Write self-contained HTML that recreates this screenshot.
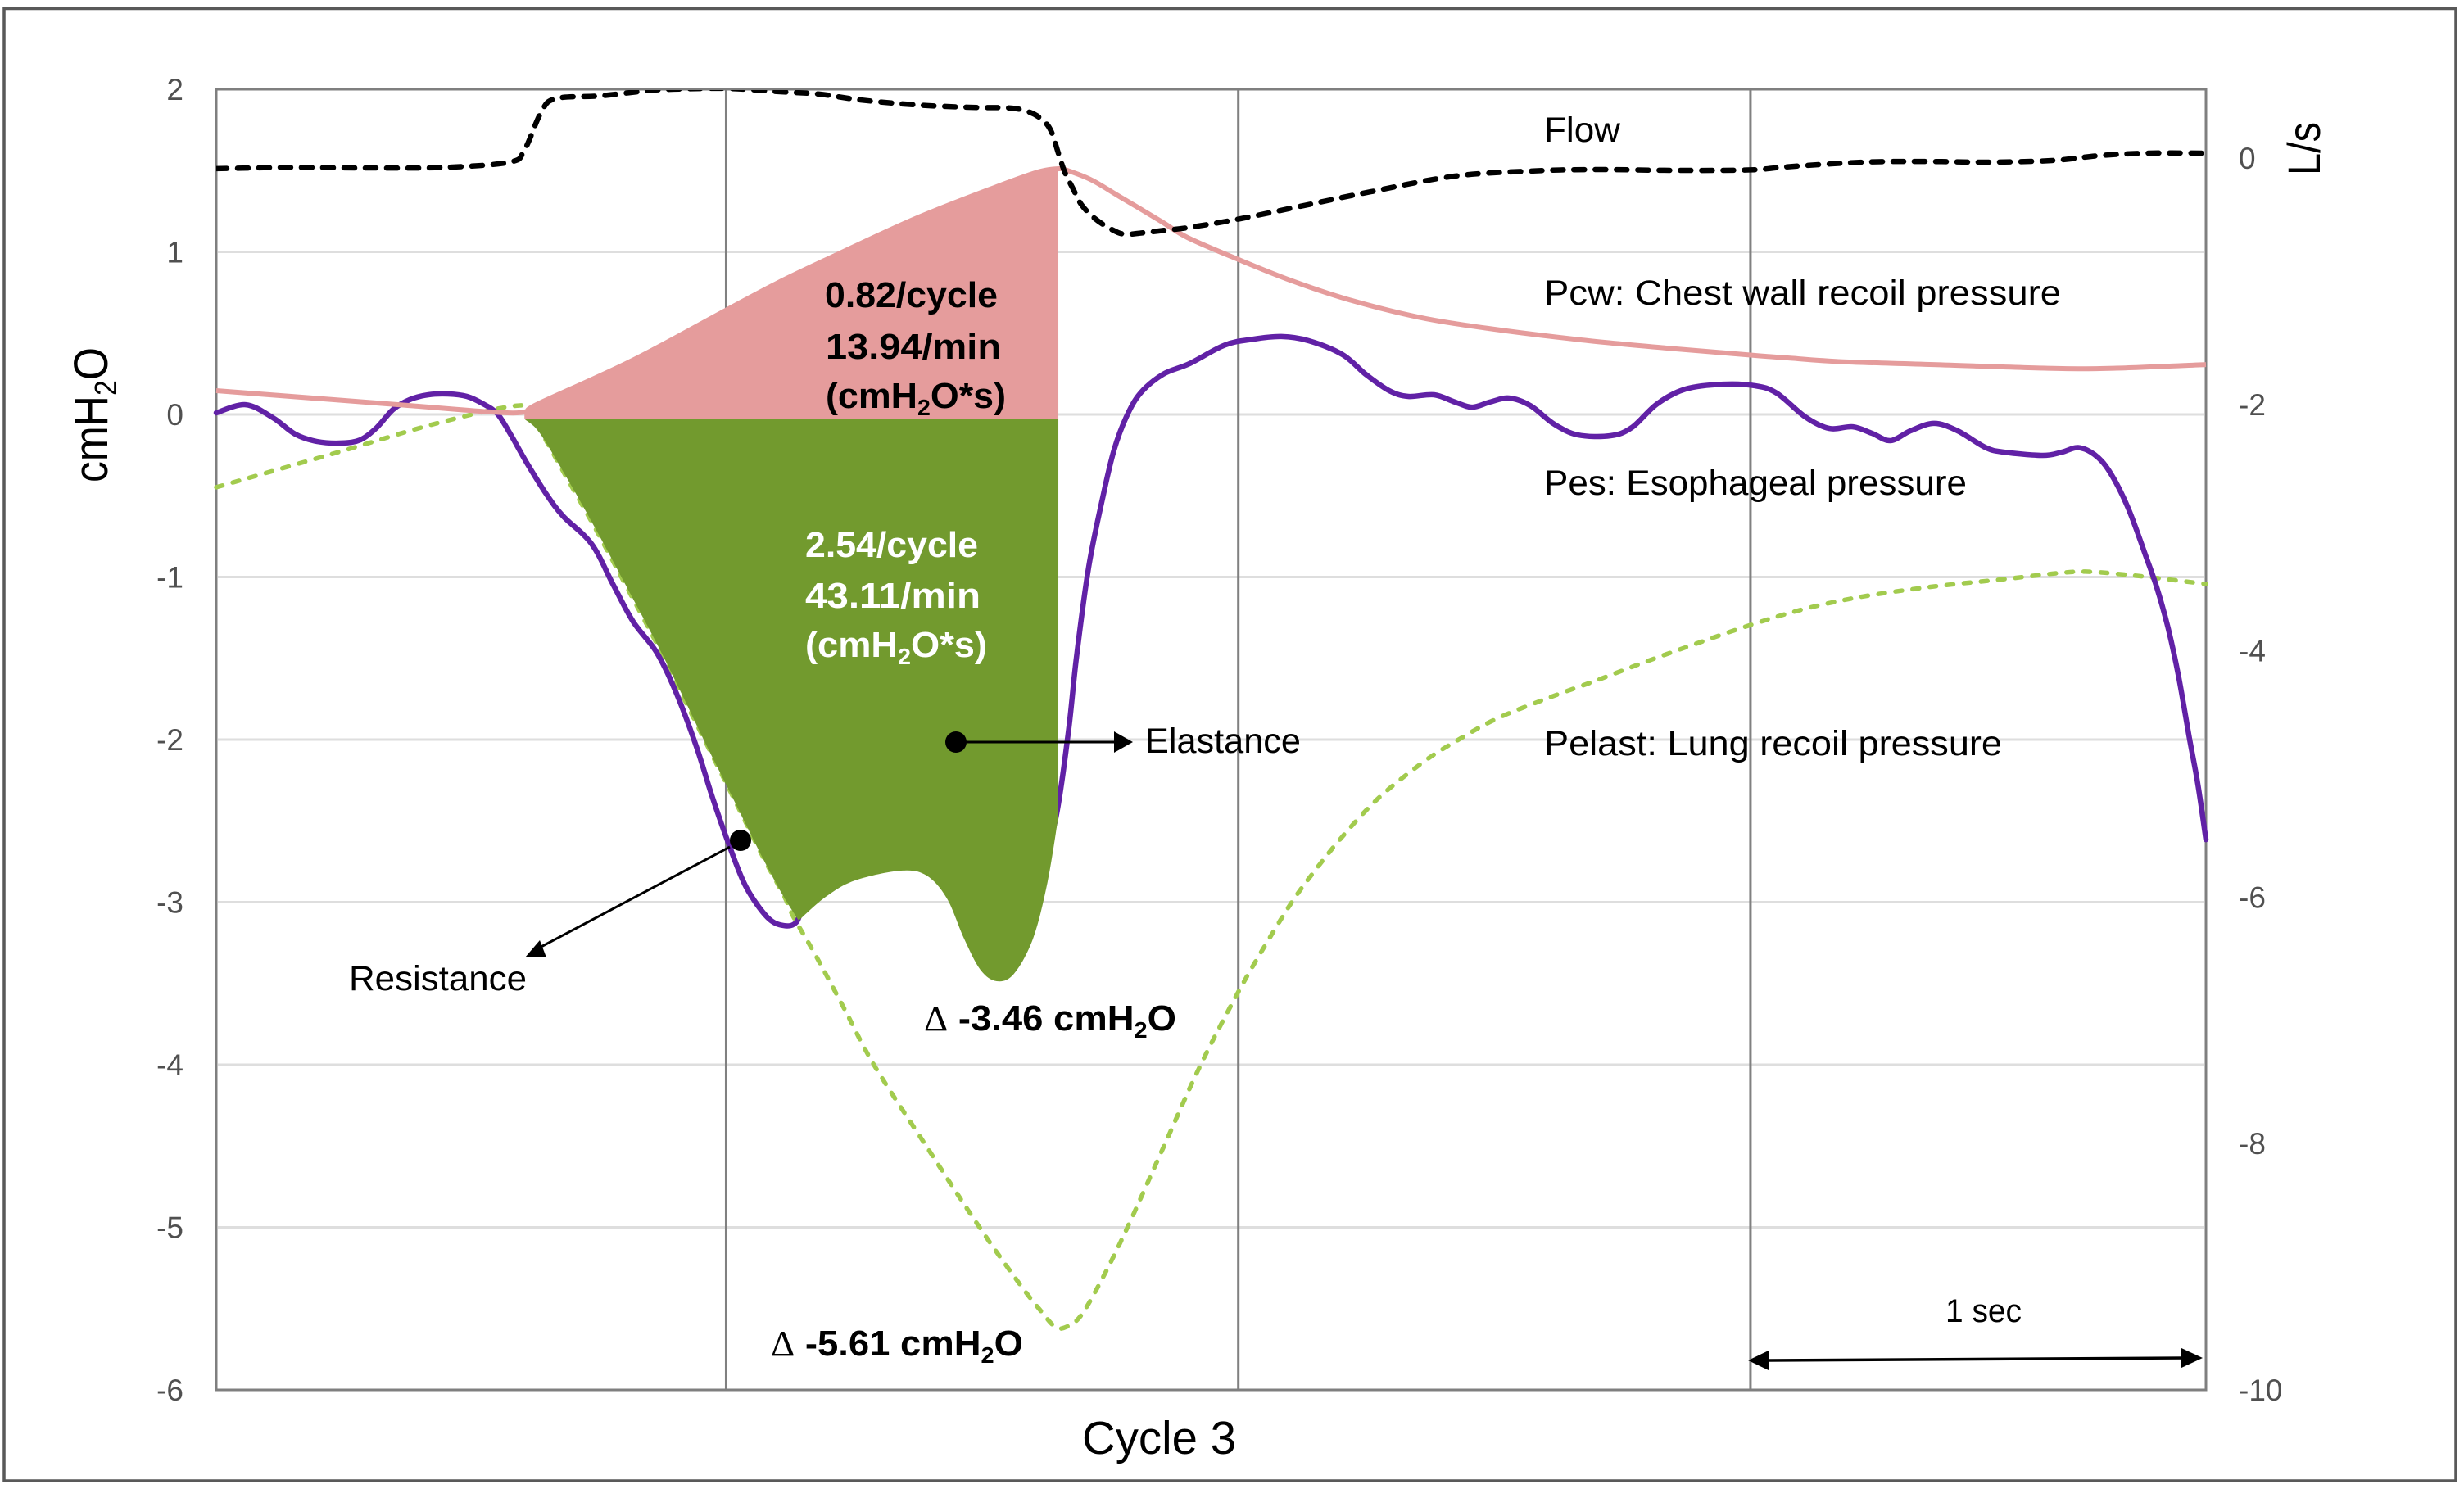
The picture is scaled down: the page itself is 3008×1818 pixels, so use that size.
<!DOCTYPE html>
<html lang="en">
<head>
<meta charset="utf-8">
<title>Cycle 3 pressure and flow chart</title>
<style>
html,body{margin:0;padding:0;background:#fff;width:3008px;height:1818px;overflow:hidden}
svg{display:block}
text{font-family:"Liberation Sans",sans-serif;fill:#000}
.lbl{font-size:43px}
.bold{font-size:44px;font-weight:700}
.sub{font-size:28px}
.tick{font-size:37px;fill:#505050}
.delta{font-family:"Liberation Serif",serif;font-weight:400}
</style>
</head>
<body>
<svg id="chart" xmlns="http://www.w3.org/2000/svg" width="3008" height="1818" viewBox="0 0 3008 1818">
  <defs>
    <clipPath id="plot-clip"><rect x="264" y="110" width="2429" height="1587"/></clipPath>
  </defs>
  <rect x="5" y="10.5" width="2993" height="1797.5" fill="#fff" stroke="#595959" stroke-width="3.5"/>
  <g id="grid"></g>
  <g id="cycle-lines"></g>
  <rect x="264" y="109" width="2429" height="1588" fill="none" stroke="#7f7f7f" stroke-width="3"/>
  <g id="left-ticks"></g>
  <g id="right-ticks"></g>
  <g id="marks"></g>

  <text transform="translate(131,589) rotate(-90)" font-size="58" textLength="165" lengthAdjust="spacingAndGlyphs">cmH<tspan font-size="38" dy="11">2</tspan><tspan dy="-11">O</tspan></text>
  <text transform="translate(2832,214) rotate(-90)" font-size="56" textLength="65" lengthAdjust="spacingAndGlyphs">L/s</text>
  <text x="1321" y="1775" font-size="57" textLength="188" lengthAdjust="spacingAndGlyphs">Cycle 3</text>

  <text class="lbl" x="1885" y="173" textLength="93" lengthAdjust="spacingAndGlyphs">Flow</text>
  <text class="lbl" x="1885" y="372" textLength="631" lengthAdjust="spacingAndGlyphs">Pcw: Chest wall recoil pressure</text>
  <text class="lbl" x="1885" y="604" textLength="516" lengthAdjust="spacingAndGlyphs">Pes: Esophageal pressure</text>
  <text class="lbl" x="1885" y="922" textLength="559" lengthAdjust="spacingAndGlyphs">Pelast: Lung recoil pressure</text>

  <g>
    <text class="bold" x="1007" y="375" textLength="211" lengthAdjust="spacingAndGlyphs">0.82/cycle</text>
    <text class="bold" x="1008" y="438" textLength="214" lengthAdjust="spacingAndGlyphs">13.94/min</text>
    <text class="bold" x="1008" y="498" textLength="220" lengthAdjust="spacingAndGlyphs">(cmH<tspan class="sub" dy="9">2</tspan><tspan dy="-9">O*s)</tspan></text>
  </g>
  <g>
    <text class="bold" style="fill:#fff" x="983" y="680" textLength="211" lengthAdjust="spacingAndGlyphs">2.54/cycle</text>
    <text class="bold" style="fill:#fff" x="983" y="742" textLength="214" lengthAdjust="spacingAndGlyphs">43.11/min</text>
    <text class="bold" style="fill:#fff" x="983" y="802" textLength="222" lengthAdjust="spacingAndGlyphs">(cmH<tspan class="sub" dy="9" style="fill:#fff">2</tspan><tspan dy="-9" style="fill:#fff">O*s)</tspan></text>
  </g>
  <text class="bold" x="1128" y="1258" textLength="308" lengthAdjust="spacingAndGlyphs"><tspan class="delta">Δ</tspan> -3.46 cmH<tspan class="sub" dy="9">2</tspan><tspan dy="-9">O</tspan></text>
  <text class="bold" x="941" y="1655" textLength="308" lengthAdjust="spacingAndGlyphs"><tspan class="delta">Δ</tspan> -5.61 cmH<tspan class="sub" dy="9">2</tspan><tspan dy="-9">O</tspan></text>

  <g>
    <circle cx="1167" cy="906" r="13" fill="#000"/>
    <line x1="1167" y1="906" x2="1362" y2="906" stroke="#000" stroke-width="3"/>
    <polygon points="1383,906 1360,893 1360,919" fill="#000"/>
    <text class="lbl" x="1398" y="919" textLength="190" lengthAdjust="spacingAndGlyphs">Elastance</text>
  </g>
  <g>
    <circle cx="904" cy="1026" r="13" fill="#000"/>
    <line x1="891" y1="1034" x2="653" y2="1160" stroke="#000" stroke-width="3"/>
    <polygon points="641,1169 659,1148 667,1169" fill="#000"/>
    <text class="lbl" x="426" y="1209" textLength="217" lengthAdjust="spacingAndGlyphs">Resistance</text>
  </g>
  <g>
    <line x1="2155" y1="1661" x2="2668" y2="1658" stroke="#000" stroke-width="3.5"/>
    <polygon points="2134,1661 2159,1649 2159,1673" fill="#000"/>
    <polygon points="2689,1658 2663,1646 2663,1670" fill="#000"/>
    <text x="2375" y="1614" font-size="40" textLength="93" lengthAdjust="spacingAndGlyphs">1 sec</text>
  </g>
</svg>
<script>
// Axis tick labels
const leftTickValues = [2, 1, 0, -1, -2, -3, -4, -5, -6];
const rightTickValues = [0, -2, -4, -6, -8, -10];
// Time (s) of the vertical cycle dividers
const cycleDividerTimes = [1.125, 2.255, 3.385];

// Pes: esophageal pressure (cmH2O)
const pesTimes = [0,.065,.125,.174,.222,.277,.318,.354,.390,.427,.468,.511,.553,.589,.620,.649,.685,.728,.765,.828,.875,.920,.971,1.012,1.059,1.095,1.133,1.169,1.216,1.252,1.280,1.300,1.345,1.410,1.511,1.567,1.630,1.665,1.695,1.722,1.750,1.785,1.815,1.853,1.880,1.898,1.925,1.956,1.981,2.008,2.039,2.089,2.147,2.225,2.288,2.350,2.411,2.485,2.536,2.588,2.630,2.687,2.733,2.771,2.810,2.852,2.899,2.951,3.004,3.076,3.123,3.179,3.242,3.325,3.396,3.443,3.506,3.559,3.611,3.653,3.694,3.738,3.790,3.842,3.904,3.945,4.030,4.072,4.108,4.144,4.177,4.218,4.258,4.282,4.307,4.330,4.354,4.372,4.390];
const pesValues = [.010,.060,-.020,-.121,-.166,-.176,-.156,-.081,.030,.091,.121,.126,.111,.065,.005,-.121,-.297,-.489,-.625,-.796,-1.043,-1.275,-1.461,-1.693,-2.040,-2.358,-2.660,-2.907,-3.093,-3.144,-3.123,-3.00,-2.93,-2.83,-2.77,-2.79,-2.98,-3.20,-3.37,-3.44,-3.37,-3.20,-2.877,-2.474,-1.955,-1.491,-.937,-.509,-.217,-.015,.131,.247,.312,.426,.463,.479,.453,.368,.247,.146,.111,.121,.076,.045,.076,.101,.055,-.058,-.126,-.131,-.081,.065,.156,.186,.176,.131,-.015,-.086,-.076,-.116,-.161,-.101,-.055,-.101,-.204,-.232,-.252,-.232,-.204,-.247,-.350,-.574,-.877,-1.068,-1.320,-1.617,-2.000,-2.272,-2.615];

// Pcw: chest wall recoil pressure (cmH2O)
const pcwTimes = [0,.403,.607,.680,.710,.918,1.124,1.240,1.361,1.542,1.722,1.813,1.858,1.878,1.932,1.993,2.084,2.143,2.256,2.370,2.494,2.650,2.807,3.013,3.221,3.385,3.465,3.590,3.789,4.040,4.187,4.390];
const pcwValues = [.146,.060,.015,.015,.065,.332,.640,.811,.972,1.204,1.401,1.491,1.511,1.501,1.441,1.340,1.189,1.088,.952,.825,.710,.600,.529,.458,.403,.365,.348,.324,.307,.284,.284,.307];

// Pelast: lung recoil pressure (cmH2O)
const pelastTimes = [0,.269,.486,.667,.698,.774,.838,.902,.976,1.032,1.077,1.124,1.160,1.207,1.252,1.274,1.321,1.384,1.451,1.565,1.684,1.773,1.818,1.851,1.876,1.908,1.954,2.010,2.091,2.172,2.256,2.319,2.375,2.424,2.476,2.536,2.588,2.669,2.735,2.823,2.935,3.049,3.154,3.259,3.385,3.506,3.633,3.790,3.945,4.050,4.124,4.218,4.301,4.390];
const pelastValues = [-.448,-.232,-.055,.055,-.020,-.393,-.710,-1.043,-1.431,-1.748,-2.000,-2.262,-2.463,-2.725,-2.957,-3.093,-3.320,-3.647,-4.000,-4.494,-5.000,-5.350,-5.510,-5.612,-5.612,-5.542,-5.320,-5.003,-4.500,-4.000,-3.547,-3.244,-2.992,-2.806,-2.625,-2.438,-2.302,-2.126,-2.010,-1.874,-1.748,-1.632,-1.521,-1.416,-1.295,-1.195,-1.120,-1.058,-1.013,-.980,-.967,-.987,-1.013,-1.043];

// Flow (L/s, right axis)
const flowTimes = [0,.157,.329,.502,.647,.680,.716,.748,.848,.952,1.010,1.126,1.240,1.330,1.421,1.542,1.661,1.751,1.795,1.824,1.842,1.858,1.872,1.890,1.909,1.939,1.975,2.004,2.048,2.095,2.143,2.256,2.391,2.547,2.733,2.910,3.045,3.221,3.385,3.465,3.633,3.768,3.904,4.050,4.155,4.260,4.390];
const flowValues = [-.086,-.076,-.080,-.076,-.033,.066,.366,.482,.505,.547,.559,.565,.539,.519,.472,.432,.412,.406,.372,.306,.219,.040,-.113,-.246,-.379,-.492,-.578,-.618,-.605,-.585,-.565,-.495,-.392,-.273,-.146,-.104,-.093,-.100,-.096,-.071,-.033,-.027,-.033,-.020,.020,.040,.040];

// Elastance area: left edge, then floor edge
const elastanceEdgeTimes = [.681,.714,.774,.838,.902,.976,1.032,1.077,1.124,1.160,1.207,1.252,1.285];
const elastanceEdgeValues = [-.030,-.116,-.393,-.710,-1.043,-1.431,-1.748,-2.010,-2.272,-2.474,-2.736,-2.967,-3.113];
const elastanceFloorTimes = [1.285,1.345,1.410,1.511,1.567,1.612,1.650,1.686,1.722,1.760,1.802,1.834,1.858];
const elastanceFloorValues = [-3.113,-2.967,-2.866,-2.806,-2.836,-2.977,-3.224,-3.416,-3.486,-3.441,-3.224,-2.877,-2.474];
// Work areas share this base value and end time
const areaBaseValue = -0.025;
const areaStartTime = 0.680;
const areaEndTime = 1.858;

const SVGNS = 'http://www.w3.org/2000/svg';
function xAxis(t){ return 264 + t * (2429 / 4.39); }
function yLeft(v){ return 506 - v * 198.5; }
function yRight(v){ return 193 - v * 150.4; }

function toPoints(times, values, yFn){
  return times.map(function(t, i){ return [xAxis(t), yFn(values[i])]; });
}
function smooth(points, skipMove){
  let d = skipMove ? '' : 'M' + points[0][0].toFixed(1) + ' ' + points[0][1].toFixed(1);
  for (let i = 0; i < points.length - 1; i++){
    const p0 = points[Math.max(i - 1, 0)];
    const p1 = points[i];
    const p2 = points[i + 1];
    const p3 = points[Math.min(i + 2, points.length - 1)];
    const c1x = p1[0] + (p2[0] - p0[0]) / 6;
    const c1y = p1[1] + (p2[1] - p0[1]) / 6;
    const c2x = p2[0] - (p3[0] - p1[0]) / 6;
    const c2y = p2[1] - (p3[1] - p1[1]) / 6;
    d += 'C' + c1x.toFixed(1) + ' ' + c1y.toFixed(1) + ' ' + c2x.toFixed(1) + ' ' + c2y.toFixed(1) + ' ' + p2[0].toFixed(1) + ' ' + p2[1].toFixed(1);
  }
  return d;
}
function make(tag, attrs, parent){
  const el = document.createElementNS(SVGNS, tag);
  Object.keys(attrs).forEach(function(k){ el.setAttribute(k, attrs[k]); });
  parent.appendChild(el);
  return el;
}

const gridGroup = document.getElementById('grid');
const dividerGroup = document.getElementById('cycle-lines');
const leftGroup = document.getElementById('left-ticks');
const rightGroup = document.getElementById('right-ticks');
const marks = document.getElementById('marks');

leftTickValues.forEach(function(v){
  if (v !== 2 && v !== -6){
    const line = make('line', {x1: 266, x2: 2691, y1: yLeft(v), y2: yLeft(v), stroke: '#dedede', 'stroke-width': 3}, gridGroup);
    
    
  }
  const label = make('text', {x: 224, y: yLeft(v) + 13, 'text-anchor': 'end', class: 'tick'}, leftGroup);
  label.textContent = String(v);
  
  
});
rightTickValues.forEach(function(v){
  const label = make('text', {x: 2733, y: yRight(v) + 13, class: 'tick'}, rightGroup);
  label.textContent = String(v);
  
  
});
cycleDividerTimes.forEach(function(t){
  const line = make('line', {x1: xAxis(t), x2: xAxis(t), y1: 109, y2: 1697, stroke: '#808080', 'stroke-width': 3}, dividerGroup);
  
  
});

// Lines beneath the areas
const pelastLine = make('path', {d: smooth(toPoints(pelastTimes, pelastValues, yLeft)), fill: 'none', stroke: '#a2cb4e', 'stroke-width': 5.5, 'stroke-dasharray': '8 13', 'stroke-linecap': 'round'}, marks);



const pesLine = make('path', {d: smooth(toPoints(pesTimes, pesValues, yLeft)), fill: 'none', stroke: '#6121a6', 'stroke-width': 6.5, 'stroke-linecap': 'round', 'stroke-linejoin': 'round'}, marks);



// Chest wall (resistive) area: Pcw between start and end time, down to the base
const pcwAreaPts = toPoints(pcwTimes, pcwValues, yLeft).filter(function(p, i){
  return pcwTimes[i] >= areaStartTime && pcwTimes[i] <= areaEndTime;
});
const baseY = yLeft(areaBaseValue);
const pinkArea = make('path', {d: smooth(pcwAreaPts) + 'L' + xAxis(areaEndTime) + ' ' + baseY + 'L' + xAxis(areaStartTime) + ' ' + baseY + 'Z', fill: '#e59c9c'}, marks);



const edgePts = toPoints(elastanceEdgeTimes, elastanceEdgeValues, yLeft);
const floorPts = toPoints(elastanceFloorTimes, elastanceFloorValues, yLeft);
const greenArea = make('path', {d: smooth(edgePts) + smooth(floorPts, true) + 'L' + xAxis(areaEndTime) + ' ' + baseY + 'L' + edgePts[0][0] + ' ' + baseY + 'Z', fill: '#729a2e'}, marks);



const pcwLine = make('path', {d: smooth(toPoints(pcwTimes, pcwValues, yLeft)), fill: 'none', stroke: '#e59c9c', 'stroke-width': 6}, marks);



const flowLine = make('path', {d: smooth(toPoints(flowTimes, flowValues, yRight)), fill: 'none', stroke: '#000', 'stroke-width': 6.5, 'stroke-dasharray': '13 13', 'stroke-linecap': 'round', 'clip-path': 'url(#plot-clip)'}, marks);


</script>
</body>
</html>
